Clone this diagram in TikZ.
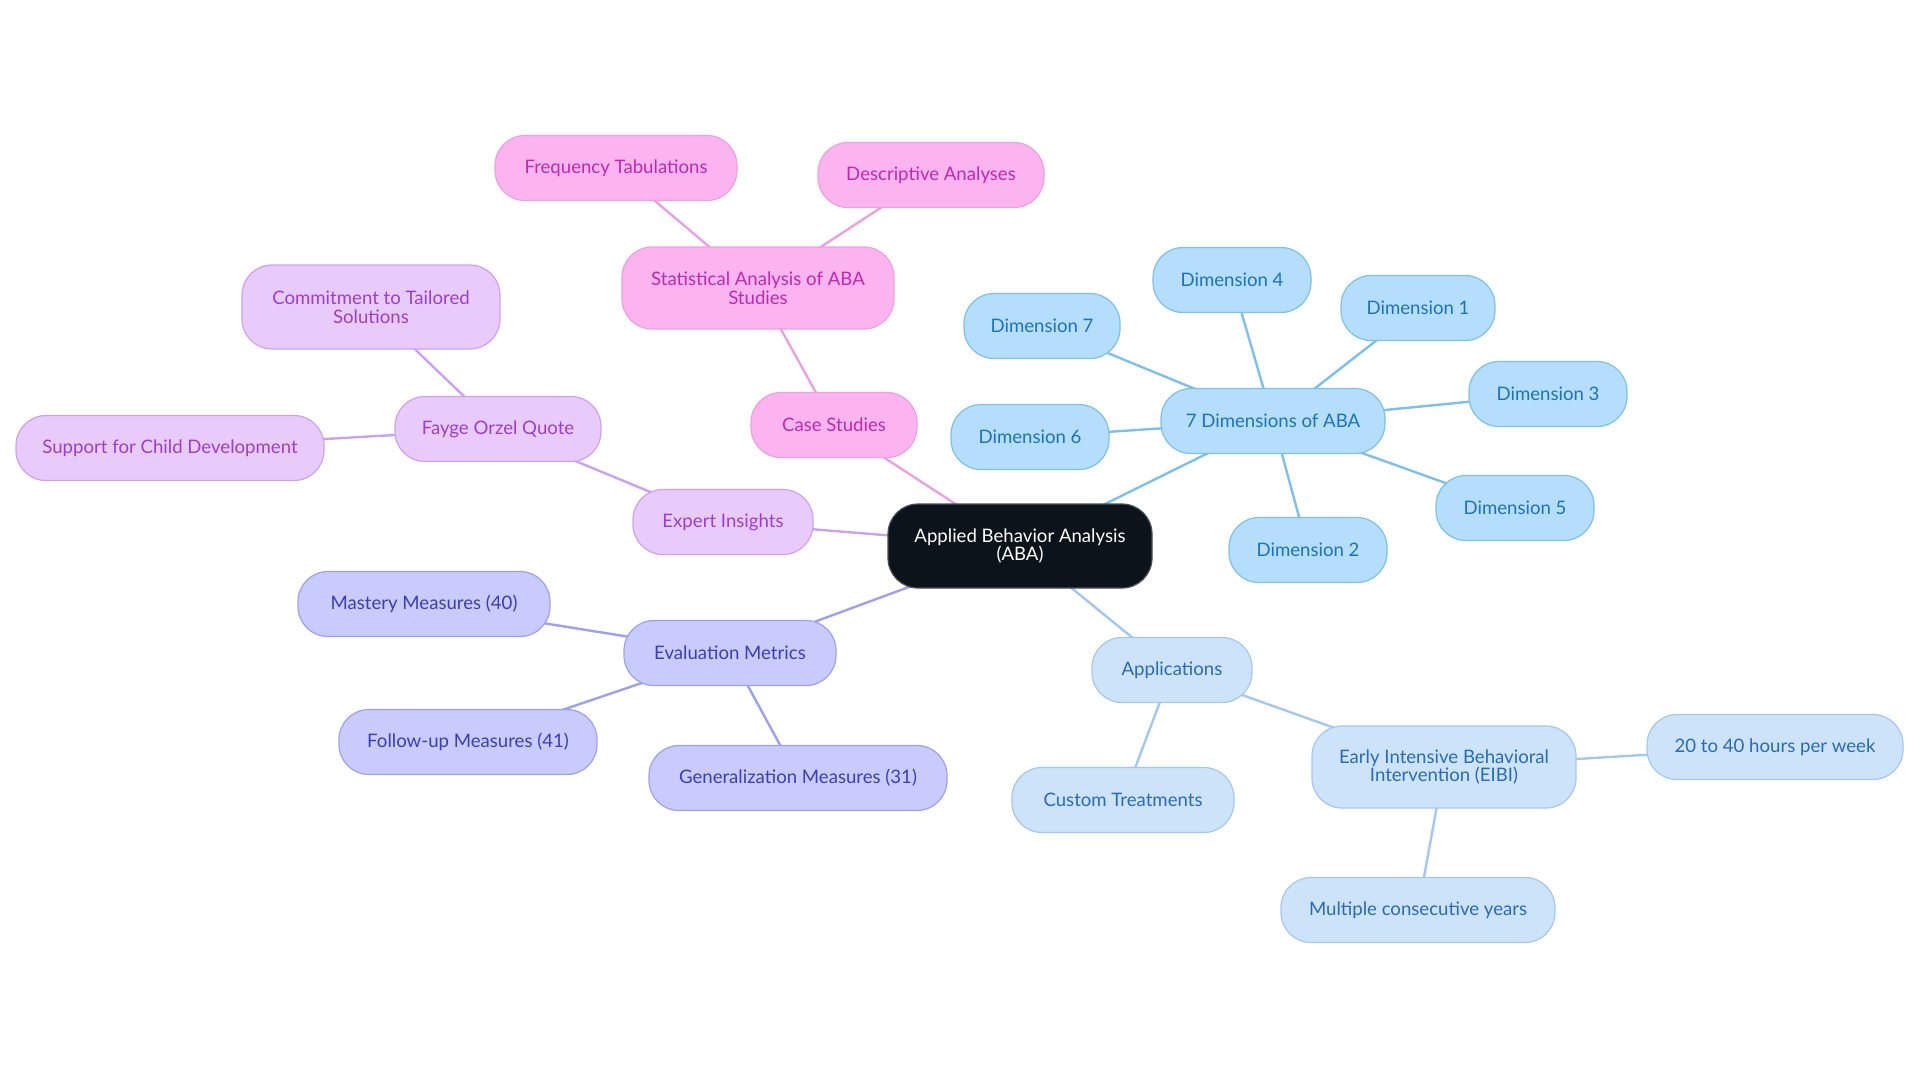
\documentclass[tikz,border=0pt]{standalone}
\usepackage{fontspec}
\setmainfont{Lato}
\usepackage{tikz}
\usetikzlibrary{backgrounds}
\usepackage{xcolor}
\definecolor{rootfill}{HTML}{0C131B}
\definecolor{rootline}{HTML}{4A5058}
\definecolor{pinkfill}{HTML}{FCB4F1}
\definecolor{pinkline}{HTML}{E9A2DF}
\definecolor{pinktext}{HTML}{BE2AAE}
\definecolor{lilacfill}{HTML}{E9CBFB}
\definecolor{lilacline}{HTML}{CDA2EC}
\definecolor{lilactext}{HTML}{9B3FCB}
\definecolor{violetfill}{HTML}{C8CBFC}
\definecolor{violetline}{HTML}{9DA1EA}
\definecolor{violettext}{HTML}{3B3FB3}
\definecolor{skyfill}{HTML}{B4DEFB}
\definecolor{skyline}{HTML}{7FBFE8}
\definecolor{skytext}{HTML}{1E73B6}
\definecolor{palefill}{HTML}{CDE3FA}
\definecolor{paleline}{HTML}{A6C7EC}
\definecolor{paletext}{HTML}{2B6AB5}
\tikzset{
    idea/.style={
        rounded corners=15pt,
        minimum height=32.5pt,
        inner sep=2pt,
        align=center,
        line width=0.6pt,
        font=\fontsize{9.3}{9.4}\selectfont
    },
    root/.style={
        idea,
        fill=rootfill,
        draw=rootline,
        text=white,
        minimum height=42pt
    },
    pinkbox/.style={idea, fill=pinkfill, draw=pinkline, text=pinktext},
    lilacbox/.style={idea, fill=lilacfill, draw=lilacline, text=lilactext},
    violetbox/.style={idea, fill=violetfill, draw=violetline, text=violettext},
    skybox/.style={idea, fill=skyfill, draw=skyline, text=skytext},
    palebox/.style={idea, fill=palefill, draw=paleline, text=paletext},
    branch/.style={line width=1.2pt}
}

\begin{document}
\begin{tikzpicture}[x=0.5pt,y=-0.5pt]

    \useasboundingbox (0,0) rectangle (1920,1083);

    % Centre
    \node[root, minimum width=132pt]
        (aba) at (1020,546)
        {Applied Behavior Analysis\\(ABA)};

    % Case studies
    \node[pinkbox, minimum width=83pt]
        (case) at (834,425) {Case Studies};
    \node[pinkbox, minimum width=136pt, minimum height=41pt]
        (stat) at (758,288) {Statistical Analysis of ABA\\Studies};
    \node[pinkbox, minimum width=121pt]
        (freq) at (616,168) {Frequency Tabulations};
    \node[pinkbox, minimum width=113pt]
        (desc) at (931,175) {Descriptive Analyses};

    % Expert insights
    \node[lilacbox, minimum width=90pt]
        (expert) at (723,522) {Expert Insights};
    \node[lilacbox, minimum width=103pt]
        (fayge) at (498,429) {Fayge Orzel Quote};
    \node[lilacbox, minimum width=129pt, minimum height=42pt]
        (commit) at (371,307) {Commitment to Tailored\\Solutions};
    \node[lilacbox, minimum width=154pt]
        (support) at (170,448) {Support for Child Development};

    % Evaluation metrics
    \node[violetbox, minimum width=106pt]
        (evalm) at (730,653) {Evaluation Metrics};
    \node[violetbox, minimum width=126pt]
        (mastery) at (424,604) {Mastery Measures (40)};
    \node[violetbox, minimum width=129pt]
        (follow) at (468,742) {Follow-up Measures (41)};
    \node[violetbox, minimum width=149pt]
        (general) at (798,778) {Generalization Measures (31)};

    % 7 dimensions
    \node[skybox, minimum width=112pt]
        (dims) at (1273,421) {7 Dimensions of ABA};
    \node[skybox, minimum width=77pt]
        (dimone) at (1418,308) {Dimension 1};
    \node[skybox, minimum width=79pt]
        (dimtwo) at (1308,550) {Dimension 2};
    \node[skybox, minimum width=79pt]
        (dimthree) at (1548,394) {Dimension 3};
    \node[skybox, minimum width=79pt]
        (dimfour) at (1232,280) {Dimension 4};
    \node[skybox, minimum width=79pt]
        (dimfive) at (1515,508) {Dimension 5};
    \node[skybox, minimum width=79pt]
        (dimsix) at (1030,437) {Dimension 6};
    \node[skybox, minimum width=78pt]
        (dimseven) at (1042,326) {Dimension 7};

    % Applications
    \node[palebox, minimum width=80pt]
        (apps) at (1172,670) {Applications};
    \node[palebox, minimum width=111pt]
        (custom) at (1123,800) {Custom Treatments};
    \node[palebox, minimum width=132pt, minimum height=41pt]
        (eibi) at (1444,767) {Early Intensive Behavioral\\Intervention (EIBI)};
    \node[palebox, minimum width=128pt]
        (hours) at (1775,747) {20 to 40 hours per week};
    \node[palebox, minimum width=137pt]
        (years) at (1418,910) {Multiple consecutive years};

    % Branches
    \begin{pgfonlayer}{background}
        \fill[white] (0,0) rectangle (1920,1083);

        \draw[branch, pinkline] (aba.center) -- (case.center);
        \draw[branch, pinkline] (case.center) -- (stat.center);
        \draw[branch, pinkline] (stat.center) -- (freq.center);
        \draw[branch, pinkline] (stat.center) -- (desc.center);

        \draw[branch, lilacline] (aba.center) -- (expert.center);
        \draw[branch, lilacline] (expert.center) -- (fayge.center);
        \draw[branch, lilacline] (fayge.center) -- (commit.center);
        \draw[branch, lilacline] (fayge.center) -- (support.center);

        \draw[branch, violetline] (aba.center) -- (evalm.center);
        \draw[branch, violetline] (evalm.center) -- (mastery.center);
        \draw[branch, violetline] (evalm.center) -- (follow.center);
        \draw[branch, violetline] (evalm.center) -- (general.center);

        \draw[branch, skyline] (aba.center) -- (dims.center);
        \foreach \d in {dimone,dimtwo,dimthree,dimfour,dimfive,dimsix,dimseven}
            \draw[branch, skyline] (dims.center) -- (\d.center);

        \draw[branch, paleline] (aba.center) -- (apps.center);
        \draw[branch, paleline] (apps.center) -- (custom.center);
        \draw[branch, paleline] (apps.center) -- (eibi.center);
        \draw[branch, paleline] (eibi.center) -- (hours.center);
        \draw[branch, paleline] (eibi.center) -- (years.center);
    \end{pgfonlayer}

\end{tikzpicture}
\end{document}
